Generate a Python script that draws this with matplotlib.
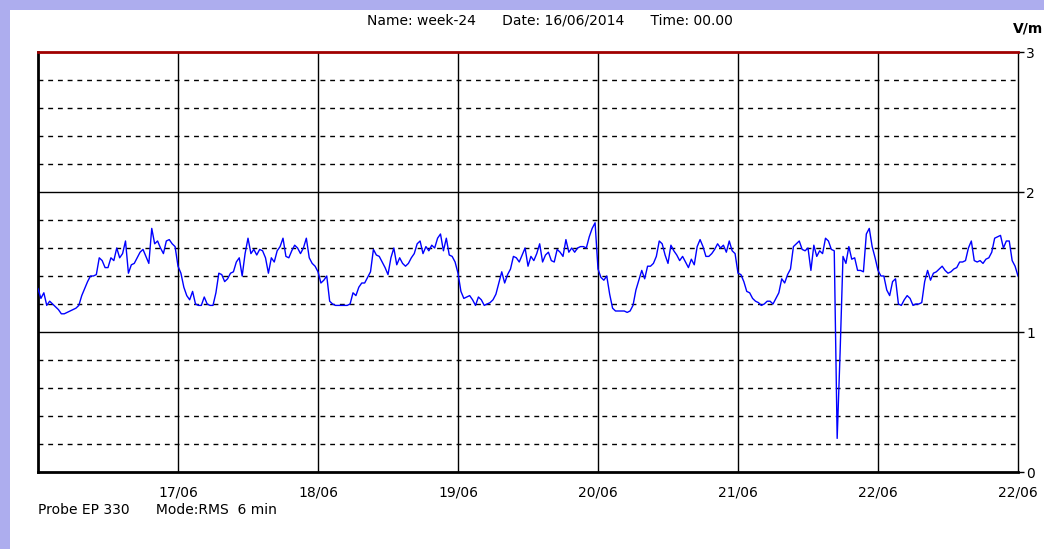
import numpy as np
import matplotlib
matplotlib.use("Agg")
import matplotlib.pyplot as plt
from matplotlib import font_manager

# ---- data: half-hourly RMS field strength (V/m), 16/06 00:00 -> 23/06 00:00 ----
day1 = [1.31, 1.24, 1.28, 1.19, 1.22, 1.20, 1.18, 1.16, 1.13, 1.13, 1.14, 1.15,
        1.16, 1.17, 1.19, 1.26, 1.31, 1.36, 1.40, 1.40, 1.41, 1.53, 1.51, 1.46,
        1.46, 1.53, 1.51, 1.60, 1.53, 1.56, 1.65, 1.42, 1.48, 1.49, 1.53, 1.57,
        1.59, 1.54, 1.49, 1.74, 1.63, 1.65, 1.60, 1.56, 1.65, 1.66, 1.63, 1.61]
day2 = [1.47, 1.42, 1.32, 1.26, 1.23, 1.29, 1.20, 1.19, 1.19, 1.25, 1.20, 1.19,
        1.19, 1.28, 1.42, 1.41, 1.36, 1.38, 1.42, 1.43, 1.50, 1.53, 1.40, 1.56,
        1.67, 1.56, 1.59, 1.55, 1.59, 1.58, 1.53, 1.42, 1.53, 1.50, 1.58, 1.61,
        1.67, 1.54, 1.53, 1.58, 1.62, 1.60, 1.56, 1.60, 1.67, 1.53, 1.49, 1.47]
day3 = [1.43, 1.35, 1.37, 1.40, 1.22, 1.20, 1.19, 1.19, 1.19, 1.19, 1.19, 1.20,
        1.28, 1.26, 1.32, 1.35, 1.35, 1.39, 1.43, 1.59, 1.55, 1.54, 1.50, 1.46,
        1.41, 1.53, 1.60, 1.48, 1.53, 1.49, 1.47, 1.49, 1.53, 1.56, 1.63, 1.65,
        1.56, 1.61, 1.58, 1.62, 1.60, 1.67, 1.70, 1.58, 1.67, 1.55, 1.54, 1.50]
day4 = [1.42, 1.29, 1.24, 1.25, 1.26, 1.23, 1.19, 1.25, 1.23, 1.19, 1.20, 1.21,
        1.23, 1.27, 1.35, 1.43, 1.35, 1.41, 1.45, 1.54, 1.53, 1.50, 1.55, 1.60,
        1.47, 1.54, 1.51, 1.56, 1.63, 1.50, 1.55, 1.57, 1.51, 1.50, 1.59, 1.57,
        1.54, 1.66, 1.57, 1.60, 1.57, 1.60, 1.61, 1.61, 1.60, 1.68, 1.74, 1.78]
day5 = [1.45, 1.39, 1.37, 1.40, 1.27, 1.17, 1.15, 1.15, 1.15, 1.15, 1.14, 1.15,
        1.19, 1.30, 1.37, 1.44, 1.38, 1.47, 1.47, 1.49, 1.54, 1.65, 1.63, 1.55,
        1.49, 1.62, 1.58, 1.55, 1.51, 1.54, 1.50, 1.46, 1.52, 1.48, 1.61, 1.66,
        1.61, 1.54, 1.54, 1.56, 1.59, 1.63, 1.60, 1.62, 1.57, 1.65, 1.58, 1.56]
day6 = [1.42, 1.41, 1.36, 1.29, 1.28, 1.24, 1.22, 1.21, 1.19, 1.20, 1.22, 1.22,
        1.20, 1.24, 1.28, 1.38, 1.35, 1.41, 1.45, 1.61, 1.63, 1.65, 1.59, 1.58,
        1.60, 1.44, 1.62, 1.54, 1.58, 1.56, 1.67, 1.65, 1.59, 1.58, 0.24, 0.85,
        1.54, 1.49, 1.61, 1.52, 1.53, 1.44, 1.44, 1.43, 1.70, 1.74, 1.61, 1.53]
day7 = [1.44, 1.40, 1.40, 1.30, 1.26, 1.36, 1.38, 1.20, 1.19, 1.23, 1.26, 1.24,
        1.19, 1.20, 1.20, 1.21, 1.36, 1.44, 1.37, 1.42, 1.43, 1.45, 1.47, 1.44,
        1.42, 1.43, 1.45, 1.46, 1.50, 1.50, 1.51, 1.60, 1.65, 1.51, 1.50, 1.51,
        1.49, 1.52, 1.53, 1.57, 1.67, 1.68, 1.69, 1.60, 1.65, 1.65, 1.51, 1.47,
        1.40]

xtick_labels = ["17/06", "18/06", "19/06", "20/06", "21/06", "22/06", "22/06"]
ytick_labels = ["0", "1", "2", "3"]
header = "Name: week-24      Date: 16/06/2014      Time: 00.00"
footer = "Probe EP 330      Mode:RMS  6 min"
unit = "V/m"

values = np.array(day1 + day2 + day3 + day4 + day5 + day6 + day7)
t = np.arange(len(values)) / 48.0  # days since 16/06 00:00

# ---- fonts ----
names = {f.name for f in font_manager.fontManager.ttflist}
fam = ["Liberation Sans Narrow", "DejaVu Sans"] if "Liberation Sans Narrow" in names else ["DejaVu Sans"]
plt.rcParams["font.family"] = fam

W, H = 1044, 549
fig = plt.figure(figsize=(W / 100, H / 100), dpi=100)
fig.patch.set_facecolor("#adadee")
# white panel
fig.add_artist(plt.Rectangle((10 / W, 0), 1 - 10 / W, 1 - 10 / H,
                             transform=fig.transFigure, facecolor="white",
                             edgecolor="none", zorder=0))

ax = fig.add_axes([38 / W, (H - 472) / H, 980 / W, 420 / H])
ax.set_facecolor("white")
ax.set_xlim(0, 7)
ax.set_ylim(0, 3)

# grid
for yv in np.arange(0.2, 3.0, 0.2):
    if abs(yv - 1) < 1e-6 or abs(yv - 2) < 1e-6:
        ax.axhline(yv, color="black", lw=1.0, zorder=1)
    else:
        ax.axhline(yv, color="black", lw=1.0, ls=(0, (3.5, 3.5)), zorder=1)
for d in range(1, 7):
    ax.axvline(d, color="black", lw=1.0, zorder=1)

ax.plot(t, values, color="#0000ff", lw=1.0, zorder=3)

# spines
for s in ["left", "bottom"]:
    ax.spines[s].set_linewidth(2.0)
    ax.spines[s].set_color("black")
ax.spines["right"].set_linewidth(1.0)
ax.spines["top"].set_linewidth(2.0)
ax.spines["top"].set_color("#a00000")

ax.set_xticks(np.arange(1, 8))
ax.set_xticklabels(xtick_labels, fontsize=10)
ax.tick_params(axis="x", length=0, pad=10)
ax.yaxis.tick_right()
ax.set_yticks([0, 1, 2, 3])
ax.set_yticklabels(ytick_labels, fontsize=10)
ax.tick_params(axis="y", length=4, width=1, pad=2, direction="out")

fig.text(550 / W, 1 - 20 / H, header, ha="center", va="center", fontsize=10)
fig.text(1013 / W, 1 - 28 / H, unit, ha="left", va="center", fontsize=10,
         fontweight="bold", family=["DejaVu Sans"])
fig.text(38 / W, 1 - 510 / H, footer, ha="left", va="center", fontsize=10)

fig.savefig("out.png", dpi=100, facecolor=fig.get_facecolor())
